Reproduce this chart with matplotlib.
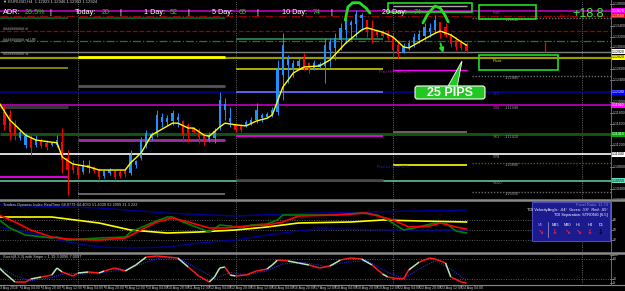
import matplotlib
matplotlib.use("Agg")
import matplotlib.pyplot as plt
import numpy as np
from matplotlib.collections import LineCollection
from matplotlib.patches import FancyBboxPatch, Polygon, Rectangle
from matplotlib.transforms import Affine2D, blended_transform_factory

W, H = 625, 291
plt.rcParams['font.family'] = ['Liberation Sans', 'DejaVu Sans']

# ---------------- data (EURUSD H4, 3 Aug - 24 Aug 2016) ----------------
opens = [1.1200, 1.1181, 1.1176, 1.1158, 1.1134, 1.1121, 1.1136, 1.1121, 1.1130, 1.1125,
         1.1121, 1.1121, 1.1126, 1.1097, 1.1084, 1.1081, 1.1071, 1.1079, 1.1081, 1.1075,
         1.1064, 1.1070, 1.1073, 1.1071, 1.1075, 1.1070, 1.1084, 1.1097, 1.1121, 1.1134,
         1.1141, 1.1163, 1.1163, 1.1165, 1.1167, 1.1165, 1.1158, 1.1152, 1.1148, 1.1139,
         1.1130, 1.1134, 1.1152, 1.1185, 1.1163, 1.1159, 1.1156, 1.1156, 1.1159, 1.1167,
         1.1170, 1.1172, 1.1176, 1.1181, 1.1249, 1.1268, 1.1259, 1.1266, 1.1281, 1.1271,
         1.1262, 1.1264, 1.1266, 1.1295, 1.1299, 1.1314, 1.1332, 1.1341, 1.1343, 1.1354,
         1.1350, 1.1336, 1.1330, 1.1328, 1.1326, 1.1321, 1.1304, 1.1292, 1.1299, 1.1306,
         1.1314, 1.1321, 1.1328, 1.1332, 1.1347, 1.1337, 1.1323, 1.1314, 1.1310, 1.1306]
highs = [1.1203, 1.1194, 1.1185, 1.1167, 1.1148, 1.1143, 1.1139, 1.1139, 1.1134, 1.1130,
         1.1126, 1.1139, 1.1152, 1.1112, 1.1093, 1.1084, 1.1093, 1.1093, 1.1082, 1.1079,
         1.1075, 1.1079, 1.1075, 1.1075, 1.1079, 1.1112, 1.1093, 1.1136, 1.1148, 1.1145,
         1.1185, 1.1180, 1.1176, 1.1185, 1.1180, 1.1167, 1.1161, 1.1154, 1.1152, 1.1143,
         1.1145, 1.1152, 1.1218, 1.1207, 1.1191, 1.1161, 1.1158, 1.1167, 1.1172, 1.1198,
         1.1180, 1.1181, 1.1191, 1.1277, 1.1326, 1.1286, 1.1277, 1.1281, 1.1290, 1.1273,
         1.1277, 1.1273, 1.1317, 1.1317, 1.1326, 1.1345, 1.1363, 1.1350, 1.1369, 1.1363,
         1.1350, 1.1350, 1.1332, 1.1332, 1.1332, 1.1326, 1.1314, 1.1308, 1.1314, 1.1326,
         1.1332, 1.1345, 1.1345, 1.1359, 1.1347, 1.1345, 1.1326, 1.1319, 1.1314, 1.1310]
lows = [1.1154, 1.1148, 1.1130, 1.1130, 1.1130, 1.1115, 1.1103, 1.1117, 1.1115, 1.1112,
        1.1119, 1.1117, 1.1070, 1.1029, 1.1070, 1.1060, 1.1068, 1.1070, 1.1070, 1.1057,
        1.1060, 1.1066, 1.1057, 1.1060, 1.1062, 1.1066, 1.1079, 1.1093, 1.1115, 1.1130,
        1.1136, 1.1154, 1.1158, 1.1158, 1.1154, 1.1126, 1.1126, 1.1143, 1.1125, 1.1121,
        1.1126, 1.1125, 1.1148, 1.1167, 1.1154, 1.1145, 1.1145, 1.1154, 1.1158, 1.1161,
        1.1163, 1.1170, 1.1172, 1.1176, 1.1203, 1.1235, 1.1246, 1.1262, 1.1259, 1.1253,
        1.1259, 1.1262, 1.1235, 1.1264, 1.1277, 1.1295, 1.1308, 1.1314, 1.1319, 1.1332,
        1.1319, 1.1308, 1.1319, 1.1319, 1.1314, 1.1282, 1.1281, 1.1290, 1.1295, 1.1301,
        1.1308, 1.1314, 1.1319, 1.1326, 1.1317, 1.1319, 1.1301, 1.1295, 1.1295, 1.1290]
closes = [1.1167, 1.1158, 1.1145, 1.1139, 1.1145, 1.1137, 1.1115, 1.1132, 1.1119, 1.1117,
          1.1125, 1.1130, 1.1093, 1.1075, 1.1075, 1.1066, 1.1082, 1.1084, 1.1073, 1.1062,
          1.1073, 1.1075, 1.1062, 1.1064, 1.1068, 1.1103, 1.1092, 1.1130, 1.1143, 1.1141,
          1.1176, 1.1172, 1.1170, 1.1180, 1.1172, 1.1139, 1.1143, 1.1145, 1.1136, 1.1130,
          1.1139, 1.1147, 1.1203, 1.1196, 1.1170, 1.1148, 1.1148, 1.1163, 1.1167, 1.1185,
          1.1176, 1.1178, 1.1185, 1.1259, 1.1304, 1.1281, 1.1271, 1.1275, 1.1266, 1.1259,
          1.1271, 1.1270, 1.1304, 1.1310, 1.1317, 1.1336, 1.1354, 1.1347, 1.1361, 1.1359,
          1.1328, 1.1317, 1.1323, 1.1321, 1.1317, 1.1295, 1.1288, 1.1303, 1.1308, 1.1319,
          1.1325, 1.1337, 1.1336, 1.1350, 1.1326, 1.1323, 1.1306, 1.1301, 1.1299, 1.1293]

ma_idx = [0, 2, 5, 7, 10, 11, 12, 14, 17, 19, 24, 25, 27, 29, 33, 34, 36, 37, 39, 40, 42, 43,
          45, 47, 49, 51, 52, 54, 56, 58, 61, 63, 66, 69, 70, 73, 75, 77, 78, 80, 83, 84, 86, 88, 89]
ma_val = [1.1198, 1.1167, 1.1139, 1.1130, 1.1126, 1.1125, 1.1099, 1.1086, 1.1081, 1.1075,
          1.1075, 1.1088, 1.1106, 1.1139, 1.1161, 1.1161, 1.1152, 1.1152, 1.1139, 1.1137,
          1.1154, 1.1161, 1.1158, 1.1156, 1.1165, 1.1170, 1.1176, 1.1227, 1.1253, 1.1264,
          1.1266, 1.1277, 1.1308, 1.1332, 1.1336, 1.1328, 1.1319, 1.1301, 1.1299, 1.1310,
          1.1326, 1.1330, 1.1323, 1.1310, 1.1304]

time_labels = ["3 Aug 2016", "4 Aug 04:00", "4 Aug 20:00", "5 Aug 12:00", "8 Aug 04:00",
               "8 Aug 20:00", "9 Aug 12:00", "10 Aug 04:00", "10 Aug 20:00", "11 Aug 12:00",
               "12 Aug 04:00", "12 Aug 20:00", "15 Aug 12:00", "16 Aug 04:00", "16 Aug 20:00",
               "17 Aug 12:00", "18 Aug 04:00", "18 Aug 20:00", "19 Aug 12:00", "22 Aug 04:00",
               "22 Aug 20:00", "23 Aug 12:00", "24 Aug 04:00"]
week_starts = [15, 45, 75, 111]

# horizontal levels across the whole chart: price, colour, style, width
full_levels = [
    (1.1367, "#b000b0", "-", 1.3),
    (1.1358, "#990000", "-.", 0.9),
    (1.1330, "#990000", "--", 0.9),
    (1.1312, "#1f7a1f", "-.", 0.9),
    (1.1292, "#808080", "-", 1.0),
    (1.1281, "#9a9a00", "-", 1.6),
    (1.1218, "#000090", "-", 1.2),
    (1.1194, "#c000c0", "-", 1.2),
    (1.1141, "#145214", "-", 2.2),
    (1.1104, "#ffffff", "-", 1.2),
    (1.1055, "#5fbfa0", "-", 1.2),
]
# weekly pivot segments: start, end, price, colour, width
week_levels = [
    (0.14, 13, 1.1354, "#006633", 1.2), (0.14, 13, 1.1262, "#999900", 1.2),
    (0.14, 13, 1.1191, "#3a3a3a", 2.0), (0.14, 13, 1.1062, "#ff00ff", 1.2),
    (15, 43, 1.1354, "#006633", 1.2), (15, 43, 1.1282, "#ffff00", 2.0),
    (15, 43, 1.1229, "#555555", 2.0), (15, 43, 1.1130, "#993399", 2.0),
    (15, 43, 1.1031, "#777777", 1.2),
    (45, 73, 1.1315, "#2e8b57", 1.2), (45, 73, 1.1260, "#cccc00", 1.2),
    (45, 73, 1.1218, "#7070ff", 1.2), (45, 73, 1.1137, "#ff00ff", 1.2),
    (45, 73, 1.1057, "#444444", 2.0),
    (75, 89, 1.1376, "#aaaaaa", 1.0), (75, 89, 1.1259, "#ff00ff", 1.0),
    (75, 89, 1.1145, "#777777", 1.2), (75, 89, 1.1084, "#ffff00", 1.2),
]
future_levels = [(1.1354, "#6a6a6a"), (1.1248, "#6a6a6a"), (1.1088, "#5a5a00"), (1.1035, "#6a6a6a")]
price_ticks = [1.1380, 1.1360, 1.1340, 1.1320, 1.1300, 1.1280, 1.1260, 1.1240, 1.1220, 1.1200,
               1.1180, 1.1160, 1.1140, 1.1120, 1.1100, 1.1080, 1.1060, 1.1040, 1.1020]
price_boxes = [(1.1367, "#ff00ff", "white"), (1.1358, "#ff0000", "white"), (1.1292, "#ffffff", "black"),
               (1.1282, "#ffff00", "black"), (1.1218, "#0000ff", "white"), (1.1194, "#ff00ff", "white"),
               (1.1141, "#00b000", "white"), (1.1104, "#ffffff", "black"), (1.1055, "#66e0c0", "black")]

# Traders Dynamic Index
tdi_up_idx = [0, 19, 32, 45, 54, 61, 70, 89]
tdi_up = [95.0, 89.6, 80.6, 75.2, 78.8, 80.6, 82.4, 86.0]
tdi_lo_idx = [0, 6, 13, 19, 25, 32, 38, 45, 51, 57, 61, 76, 89]
tdi_lo = [55.4, 44.6, 28.4, 19.4, 17.6, 19.4, 26.6, 32.0, 41.0, 48.2, 52.0, 50.0, 50.0]
tdi_base_idx = [0, 10, 19, 25, 32, 38, 45, 51, 57, 67, 73, 80, 89]
tdi_base = [73.4, 73.4, 62.6, 50.0, 44.6, 46.4, 50.0, 55.4, 62.6, 64.4, 68.0, 66.2, 64.4]
tdi_sig_idx = [0, 3, 6, 10, 13, 19, 24, 27, 30, 33, 36, 40, 43, 47, 51, 54, 57, 64, 70, 75,
               78, 82, 84, 87, 89]
tdi_sig = [77, 64.4, 50, 37.4, 33.8, 32, 35.6, 50, 64.4, 71.6, 64.4, 53.6, 53.6, 57.2, 59,
           64.4, 75.2, 77, 80.6, 68, 55.4, 57.2, 62.6, 55.4, 51.8]
tdi_rsi_idx = [0, 2, 5, 10, 11, 13, 16, 19, 24, 25, 29, 32, 33, 35, 38, 40, 42, 44, 46, 48,
               51, 53, 54, 57, 64, 69, 72, 74, 77, 79, 83, 85, 87, 89]
tdi_rsi = [68, 53.6, 41, 35.6, 37.4, 32, 33.8, 35.6, 37.4, 46.4, 62.6, 73.4, 73.4, 64.4, 53.6,
           46.4, 59, 57.2, 53.6, 59, 60.8, 68, 77, 77, 77, 80.6, 77, 68, 50, 53.6, 62.6, 62.6,
           48.2, 44.6]

# Stochastic with stripe
sto_idx = [0, 1, 3, 5, 6, 8, 10, 11, 12, 14, 15, 17, 19, 20, 22, 24, 26, 28, 30, 32, 34, 36,
           38, 40, 41, 42, 43, 44, 45, 47, 49, 51, 52, 53, 55, 57, 59, 61, 63, 65, 67, 69, 71,
           73, 74, 75, 77, 78, 80, 82, 83, 85, 86, 88, 89]
sto_val = [53, 38, 11, 11, 20, 26, 32, 53, 41, 29, 38, 41, 38, 44, 53, 44, 62, 86, 89, 86, 83,
           56, 29, 11, 26, 53, 56, 32, 29, 32, 44, 50, 62, 77, 74, 68, 62, 53, 59, 77, 83, 80,
           62, 35, 26, 23, 20, 47, 71, 83, 80, 68, 26, 11, 8]
sto_red = [(3, 6), (8, 9), (13, 15), (17, 19), (21, 23), (29, 33), (37, 39), (43, 44), (45, 48),
           (50, 51), (53, 54), (59, 62), (65, 69), (72, 73), (74, 78), (81, 84), (87, 89)]
sig_idx = [0, 3, 6, 10, 13, 16, 20, 24, 28, 31, 35, 39, 41, 44, 47, 51, 54, 58, 62, 66, 70,
           74, 77, 80, 83, 86, 89]
sig_val = [55, 30, 15, 25, 38, 35, 40, 48, 70, 85, 75, 40, 20, 40, 32, 45, 65, 70, 58, 70, 75,
           40, 22, 50, 75, 50, 15]

header = [("ADR:", 3, "w"), ("26.5%", 25, "g"), ("|", 49, "w"), ("Today:", 75, "w"), ("20", 102, "g"),
          ("|", 119, "w"), ("1 Day:", 144, "w"), ("52", 170, "g"), ("|", 187, "w"),
          ("5 Day:", 212, "w"), ("65", 239, "g"), ("|", 256, "w"), ("10 Day:", 282, "w"),
          ("74", 313, "g"), ("|", 330, "w"), ("20 Day:", 382, "w"), ("74", 414, "g")]

# ---------------- figure ----------------
BULL, BEAR = "#1e90ff", "#ff0000"
GREEN = "#22dd22"
XMIN, XMAX = 0.143, 116.52

fig = plt.figure(figsize=(W / 100, H / 100), dpi=100, facecolor="black")
PX = Affine2D().scale(1 / 100) + fig.dpi_scale_trans  # pixel coords, origin bottom-left


def top(y):
    return H - y


def panel(y0, y1):
    ax = fig.add_axes([0, 1 - y1 / H, 611 / W, (y1 - y0) / H])
    ax.set_facecolor("black")
    ax.set_xticks([])
    ax.set_yticks([])
    for s in ax.spines.values():
        s.set_visible(False)
    ax.set_xlim(XMIN, XMAX)
    for w in week_starts:
        ax.axvline(w, color="#666666", ls=(0, (1, 1.3)), lw=0.7, zorder=1)
    return ax


def right_label(ax, val, text, color="#c8c8c8"):
    tr = blended_transform_factory(PX, ax.transData)
    ax.plot([610, 612.5], [val, val], transform=tr, color="#9a9a9a", lw=0.5, clip_on=False)
    ax.text(613, val, text, transform=tr, fontsize=2.5, color=color, va="center",
            ha="left", clip_on=False)


# ---- main price panel ----
ax = panel(0, 199)
ax.set_ylim(1.10218, 1.1387)

for p, col, ls, lw in full_levels:
    ax.hlines(p, XMIN, XMAX, colors=col, linestyles=ls, lw=lw, zorder=1)
for s, e, p, col, lw in week_levels:
    ax.hlines(p, s, e, colors=col, lw=lw, zorder=1.5)
for p, col in future_levels:
    ax.hlines(p, 90, XMAX, colors=col, linestyles=(0, (1, 1.2)), lw=1.0, zorder=1)
    ax.text(96.3, p - 0.0004, f"{p:.5f}", fontsize=2.8, color="#9a9a9a", va="center")

idx = np.arange(len(closes))
o, h, l, c = (np.array(a) for a in (opens, highs, lows, closes))
cols = np.where(c >= o, BULL, BEAR)
ax.vlines(idx, l, h, colors=cols, lw=0.7, zorder=3)
ax.bar(idx, np.maximum(np.abs(c - o), 0.00006), bottom=np.minimum(o, c), width=0.45,
       color=cols, zorder=3)
ax.plot(ma_idx, ma_val, color="#ffff00", lw=1.0, zorder=4)
ax.vlines(104, 1.1292, 1.1310, colors="#ff0000", lw=0.9, zorder=3)

# level captions
for txt, p, col in [("R38", 1.1363, "#9933cc"), ("Pivot", 1.1275, "#e6e600"), ("S23", 1.1215, "#2a2ab0"),
                    ("S38", 1.1189, "#dd22dd"), ("S61", 1.1136, "#669900"), ("S78", 1.1099, "#aaaaaa"),
                    ("S100", 1.1051, "#44aa99")]:
    ax.text(94, p, txt, fontsize=3, color=col, va="center")
for p in [1.1189, 1.1136]:
    ax.text(96.3, p, f"{p + 0.0005:.5f}", fontsize=2.8, color="#9a9a9a", va="center")
ax.text(72.3, 1.1255, "Prev Hi Pivot 62%", fontsize=2.8, color="#aa22aa", va="center")
ax.text(72.0, 1.1080, "Prev Lo Pivot 62%", fontsize=2.8, color="#2a2ab8", va="center")
ax.text(106.8, 1.1358, "R61.8", fontsize=2.8, color="#cc0000", va="center")

# hand drawn annotations
for rx, ry, rw, rh in [(74.0, 1.1365, 16.0, 0.0016), (91.4, 1.1352, 10.8, 0.0026),
                       (91.4, 1.1259, 15.0, 0.0027)]:
    ax.add_patch(Rectangle((rx, ry), rw, rh, fill=False, ec=GREEN, lw=1.2, zorder=5))
ax.plot([65.9, 66.4, 67.3, 68.6, 69.9, 70.6], [1.1350, 1.1374, 1.1382, 1.1382, 1.1372, 1.1363],
        color=GREEN, lw=2.0, solid_capstyle="round", zorder=5)
ax.plot([80.7, 81.7, 83.0, 84.0, 84.9, 85.5], [1.1345, 1.1363, 1.1376, 1.1372, 1.1359, 1.1347],
        color=GREEN, lw=2.0, solid_capstyle="round", zorder=5)
ax.annotate("", xy=(84.7, 1.1285), xytext=(83.9, 1.1312),
            arrowprops=dict(arrowstyle="-|>", color=GREEN, lw=1.4, mutation_scale=6), zorder=5)

box_prices = [b[0] for b in price_boxes]
for p in price_ticks:
    if min(abs(p - b) for b in box_prices) > 0.0006:
        right_label(ax, p, f"{p:.5f}")
tr_main = blended_transform_factory(PX, ax.transData)
for p, fc, tc in price_boxes:
    ax.text(612, p, f"{p:.5f}", transform=tr_main, fontsize=2.5, color=tc, va="center",
            ha="left", clip_on=False, zorder=6,
            bbox=dict(boxstyle="square,pad=0.15", fc=fc, ec="none"))

# ---- TDI panel ----
ax2 = panel(201, 252)
ax2.set_ylim(10.4, 102.2)
for v in (68, 50, 32):
    ax2.axhline(v, color="#5a5a5a", ls=(0, (1, 1.5)), lw=0.7)
    right_label(ax2, v, str(v))
ax2.plot(tdi_up_idx, tdi_up, color="#000099", lw=1.0)
ax2.plot(tdi_lo_idx, tdi_lo, color="#000099", lw=1.0)
ax2.plot(tdi_base_idx, tdi_base, color="#ffff00", lw=1.2)
ax2.plot(tdi_rsi_idx, tdi_rsi, color="#008000", lw=1.2)
ax2.plot(tdi_sig_idx, tdi_sig, color="#ff0000", lw=1.2)

# ---- Stochastic panel ----
ax3 = panel(254, 284)
ax3.set_ylim(5, 95)
for v in (80, 20):
    ax3.axhline(v, color="#5a5a5a", ls=(0, (1, 1.5)), lw=0.7)
    right_label(ax3, v, str(v))
right_label(ax3, 92, "100")
right_label(ax3, 8, "0")
ax3.plot(sig_idx, sig_val, color="#2a2ad0", ls=(0, (1, 1)), lw=0.8)
segs, seg_cols = [], []
for k in range(len(sto_idx) - 1):
    mid = (sto_idx[k] + sto_idx[k + 1]) / 2
    red = any(a <= mid <= b for a, b in sto_red)
    segs.append([(sto_idx[k], sto_val[k]), (sto_idx[k + 1], sto_val[k + 1])])
    seg_cols.append("#ff1a1a" if red else "#b8e6b8")
ax3.add_collection(LineCollection(segs, colors=seg_cols, linewidths=1.1))

# ---- frame lines ----
for y, lw in [(200, 1.8), (253, 1.8), (285, 0.8)]:
    fig.add_artist(plt.Line2D([0, W], [top(y), top(y)], transform=PX, color="#8a8a8a", lw=lw))
fig.add_artist(plt.Line2D([611, 611], [top(0), top(285)], transform=PX, color="#7a7a7a", lw=0.6))

# ---- texts ----
fig.text(3, top(1.5), "\u25bc EURUSD,H4  1.12923 1.12946 1.12903 1.12924", transform=PX,
         fontsize=3, color="#d0d0d0", va="center")
for txt, x, kind in header:
    fig.text(x, top(13), txt, transform=PX, fontsize=5.2, va="center",
             color="#ffffff" if kind == "w" else "#22cc22")
for txt, y in [("########## d", 29), ("########## wl UR", 40), ("########## w", 54)]:
    fig.text(3, top(y), txt, transform=PX, fontsize=2.8, color="#bbbbbb", va="center")
fig.text(588, top(14), "+18.8", transform=PX, fontsize=9, color="#33ee33", ha="center", va="center")
fig.text(3, top(205), "Traders Dynamic Index RealTime 68.8779 64.4030 51.4030 62.2009 31.3 222",
         transform=PX, fontsize=2.8, color="#c8c8c8", va="center")
fig.text(3, top(257), "Stoch(8,3,3) with Stripe = 1.19 3.0096 7.0097", transform=PX,
         fontsize=2.8, color="#c8c8c8", va="center")

for k, lab in enumerate(time_labels):
    x = -0.75 + 5.25 * (4 * k)
    fig.add_artist(plt.Line2D([x, x], [top(285), top(287)], transform=PX, color="#9a9a9a", lw=0.5))
    fig.text(x + 1, top(288.5), lab, transform=PX, fontsize=2.5, color="#c8c8c8", va="center")

# "25 PIPS" callout
fig.add_artist(Polygon([(447, top(88)), (457, top(88)), (462, top(61))], closed=True,
                       transform=PX, fc="#22c722", ec="white", lw=0.6))
fig.add_artist(FancyBboxPatch((415, top(99)), 70, 13, boxstyle="round,pad=0,rounding_size=2.5",
                              transform=PX, fc="#22c722", ec="white", lw=0.8))
fig.text(450, top(92.5), "25 PIPS", transform=PX, fontsize=9, weight="bold", color="white",
         ha="center", va="center")

# info panel
fig.add_artist(Rectangle((532, top(241)), 78, 39, transform=PX, fc="#1b1b8f", ec="#4a4ab8", lw=0.8))
fig.text(608, top(205.5), "Panel Ratio: 11.74", transform=PX, fontsize=2.8, color="#8a8ac8",
         ha="right", va="center")
fig.text(608, top(210.5), "TDI VelocityAngle: -64\u00b0  Green: -58\u00b0  Red: -65\u00b0",
         transform=PX, fontsize=2.8, color="white", ha="right", va="center")
fig.text(608, top(215), "TDI Separation: STRONG [6.5]", transform=PX, fontsize=2.8,
         color="white", ha="right", va="center")
fig.add_artist(plt.Line2D([548, 548], [top(222), top(237)], transform=PX, color="#8a8ac8", lw=0.6))
for lab, x, arrow, col in [("M5", 540, "\u2198", "#ff2020"), ("M15", 555, "\u2193", "#ff2020"),
                           ("M30", 567, "\u2198", "#ff2020"), ("H1", 578, "\u2198", "#ff2020"),
                           ("H4", 590, "\u2193", "#ff2020"), ("D1", 601, "\u2193", "#000000")]:
    fig.text(x, top(225), lab, transform=PX, fontsize=2.8, ha="center", va="center",
             color="#8a8ac8" if lab == "M5" else "white")
    fig.text(x, top(232), arrow, transform=PX, fontsize=5, ha="center", va="center",
             color=col, weight="bold", family="DejaVu Sans")

fig.savefig("out.png", dpi=100, facecolor="black")
